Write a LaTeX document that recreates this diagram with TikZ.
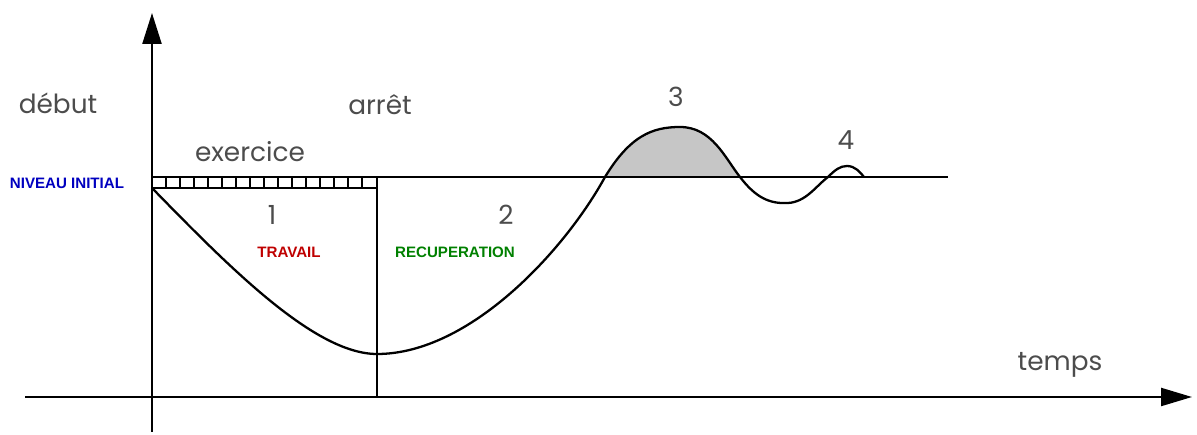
\documentclass[tikz,border=0pt]{standalone}
\usepackage{fontspec}
\setmainfont{Poppins}
\setsansfont{Liberation Sans}
\usetikzlibrary{arrows.meta}
\tikzset{
  lbl/.style={font=\fontsize{15}{18}\selectfont, text=black!70},
  tag/.style={font=\sffamily\bfseries\fontsize{8.6}{10}\selectfont},
}
\begin{document}
\begin{tikzpicture}[x=0.02cm,y=-0.02cm,line width=1.3pt]
    \useasboundingbox (0,0) rectangle (1197,435);
    % axes
    \coordinate (ybot) at (152,432);
    \coordinate (ytop) at (152,13);
    \coordinate (xleft) at (25,397);
    \coordinate (xright) at (1192,397);
    \draw[-{Triangle[length=0.62cm,width=0.38cm]}] (ybot) -- (ytop);
    \draw[-{Triangle[length=0.62cm,width=0.36cm]}] (xleft) -- (xright);
    % initial level and hatched bar
    \coordinate (lv0) at (152,177);
    \coordinate (lvend) at (948,177);
    \draw[line width=1pt] (152,177) rectangle (377,188);
    \foreach \x in {166,180,...,370}
        \draw[line width=0.7pt] (\x,177) -- (\x,188);
    % stop line
    \coordinate (stop) at (377,177);
    \coordinate (stopbase) at (377,397);
    \draw (stop) -- (stopbase);
    % curve points
    \coordinate (start) at (152,188);
    \coordinate (low) at (377,354);
    \coordinate (up1) at (605,177);
    \coordinate (peak) at (680,127);
    \coordinate (down1) at (740,177);
    \coordinate (trough) at (788,203);
    \coordinate (up2) at (828,177);
    \coordinate (bump) at (847,166);
    \coordinate (end) at (864,177);
    % gray area 3
    \fill[gray!45] (up1) .. controls (630,136) and (652,127) .. (peak)
        .. controls (712,127) and (725,158) .. (down1) -- cycle;
    % curve
    \draw (start) .. controls (230,268) and (315,354) .. (low)
        .. controls (470,354) and (565,250) .. (up1)
        .. controls (630,136) and (652,127) .. (peak)
        .. controls (712,127) and (725,158) .. (down1)
        .. controls (756,198) and (770,204) .. (trough)
        .. controls (806,202) and (816,186) .. (up2)
        .. controls (835,170) and (840,166) .. (bump)
        .. controls (855,166) and (860,172) .. (end);
    \draw (lv0) -- (lvend);
    % labels
    \node[lbl] (debut) at (58,103) {début};
    \node[lbl] (arret) at (380,105) {arrêt};
    \node[lbl] (exercice) at (250,152) {exercice};
    \node[tag,text=blue!75!black] (niveau) at (67,183) {NIVEAU INITIAL};
    \node[lbl] (un) at (272,215) {1};
    \node[lbl] (deux) at (506,215) {2};
    \node[lbl] (trois) at (676,97) {3};
    \node[lbl] (quatre) at (846,140) {4};
    \node[tag,text=red!75!black] (travail) at (289,252) {TRAVAIL};
    \node[tag,text=green!50!black] (recup) at (455,252) {RECUPERATION};
    \node[lbl] (temps) at (1060,365) {temps};
\end{tikzpicture}
\end{document}
